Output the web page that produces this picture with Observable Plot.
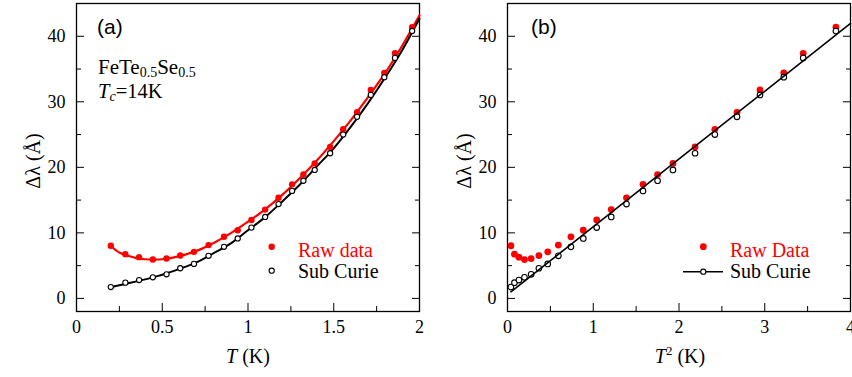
<!DOCTYPE html>
<html><head><meta charset="utf-8">
<script src="https://cdn.jsdelivr.net/npm/d3@7"></script>
<script src="https://cdn.jsdelivr.net/npm/@observablehq/plot@0.6"></script>
<style>
body{margin:0;background:#fff;}
#wrap{position:relative;width:852px;height:377px;overflow:hidden;background:#fff;}
.pl{position:absolute;top:0;}
#ov{position:absolute;left:0;top:0;}
#wrap svg text{font-family:"Liberation Serif","Tinos","Times New Roman","DejaVu Serif",serif;}
#wrap svg text.sans{font-family:"Liberation Sans","Arimo",Arial,sans-serif;}
</style></head>
<body><div id="wrap"></div>
<script>
// Temperatures (K) of the measured points
const T = [0.2,0.285,0.365,0.445,0.525,0.605,0.685,0.77,0.86,0.94,1.02,1.1,1.178,1.257,1.323,1.389,1.479,1.555,1.636,1.716,1.795,1.857,1.957];
// Δλ (Å) raw data
const rawData = [8.03,6.75,6.29,5.93,6.08,6.54,7.1,8.13,9.4,10.4,11.97,13.55,15.35,17.4,18.9,20.6,23.1,25.8,28.4,31.8,34.4,37.4,41.4];
// Δλ (Å) after Curie subtraction
const subCurie = [1.73,2.4,2.8,3.22,3.68,4.6,5.26,6.5,7.87,9.15,10.8,12.43,14.4,16.4,17.95,19.6,22.15,25.0,27.7,31.05,33.75,36.7,40.8];
// fit curves of panel (a)
const fitT = [0.2,0.25,0.3,0.35,0.4,0.45,0.5,0.6,0.7,0.8,0.9,1.0,1.1,1.2,1.3,1.4,1.5,1.6,1.7,1.8,1.9,2.0];
const fitRaw = [8.0,7.0,6.5,6.15,5.97,5.92,5.97,6.45,7.25,8.45,9.95,11.7,13.6,15.8,18.3,21.0,24.0,27.2,30.7,34.4,38.6,43.2];
const fitSub = [1.7,2.0,2.3,2.6,2.9,3.25,3.6,4.5,5.5,6.9,8.4,10.4,12.4,14.8,17.3,20.1,22.9,26.2,29.8,33.7,37.9,42.7];
// linear fit of panel (b)
const lineT2 = [0.04,4];
const lineB = [1.0,41.95];
// ticks
const xTicksA = [0,0.5,1,1.5,2], xMinorA = [0.25,0.75,1.25,1.75];
const xTicksB = [0,1,2,3,4], xMinorB = [0.5,1.5,2.5,3.5];
const yTicks = [0,10,20,30,40], yMinor = [5,15,25,35];

const RED = "#ff0000";
const SERIF = "Liberation Serif";
const pts = T.map((t,i)=>({t, t2:t*t, raw:rawData[i], sub:subCurie[i]}));
const fits = fitT.map((t,i)=>({t, raw:fitRaw[i], sub:fitSub[i]}));
const lin = lineT2.map((x,i)=>({x, y:lineB[i]}));
const blank = () => "";

function frameMarks(xt, xm){
  return [
    Plot.frame({stroke:"black", strokeWidth:1.3}),
    Plot.axisX({anchor:"bottom", ticks:xt, tickSize:-8, tickFormat:blank, label:null}),
    Plot.axisX({anchor:"bottom", ticks:xm, tickSize:-5, tickFormat:blank, label:null}),
    Plot.axisX({anchor:"bottom", ticks:xt, tickSize:0, tickPadding:9, tickFormat:d=>String(d), fontSize:18, fontFamily:SERIF, label:null}),
    Plot.axisY({anchor:"left", ticks:yTicks, tickSize:-8, tickFormat:blank, label:null}),
    Plot.axisY({anchor:"left", ticks:yMinor, tickSize:-5, tickFormat:blank, label:null}),
    Plot.axisY({anchor:"right", ticks:yTicks, tickSize:-8, tickFormat:blank, label:null}),
    Plot.axisY({anchor:"right", ticks:yMinor, tickSize:-5, tickFormat:blank, label:null}),
    Plot.axisY({anchor:"left", ticks:yTicks, tickSize:0, tickPadding:11, tickFormat:d=>String(d), fontSize:18, fontFamily:SERIF, label:null})
  ];
}

const common = {height:377, marginTop:3, marginBottom:66, y:{domain:[-2,45]},
  style:{fontFamily:SERIF, fontSize:"18px", background:"transparent", color:"black", overflow:"visible"}};

const chartA = Plot.plot({...common, width:430, marginLeft:76, marginRight:11,
  x:{domain:[0,2]},
  marks:[
    ...frameMarks(xTicksA, xMinorA),
    Plot.line(fits, {x:"t", y:"raw", stroke:RED, strokeWidth:2.2, curve:"catmull-rom"}),
    Plot.line(fits, {x:"t", y:"sub", stroke:"black", strokeWidth:2, curve:"catmull-rom"}),
    Plot.dot(pts, {x:"t", y:"raw", r:3.2, fill:RED, stroke:"none"}),
    Plot.dot(pts, {x:"t", y:"sub", r:2.6, fill:"white", stroke:"black", strokeWidth:1.1})
  ]});
chartA.classList.add("pl"); chartA.style.left = "0px";

const chartB = Plot.plot({...common, width:422, marginLeft:77, marginRight:2,
  x:{domain:[0,4]},
  marks:[
    ...frameMarks(xTicksB, xMinorB),
    Plot.dot(pts, {x:"t2", y:"raw", r:3.4, fill:RED, stroke:"none"}),
    Plot.dot(pts, {x:"t2", y:"sub", r:2.8, fill:"white", stroke:"black", strokeWidth:1.1}),
    Plot.line(lin, {x:"x", y:"y", stroke:"black", strokeWidth:1.6})
  ]});
chartB.classList.add("pl"); chartB.style.left = "430px";

const wrap = document.getElementById("wrap");
wrap.appendChild(chartA);
wrap.appendChild(chartB);

// overlay: panel letters, annotations, legends, axis titles
const NS = "http://www.w3.org/2000/svg";
const ov = document.createElementNS(NS, "svg");
ov.setAttribute("id","ov"); ov.setAttribute("width",852); ov.setAttribute("height",377);
wrap.appendChild(ov);
function txt(x, y, parts, opts={}){
  const t = document.createElementNS(NS,"text");
  t.setAttribute("x",x); t.setAttribute("y",y);
  if(opts.cls) t.setAttribute("class", opts.cls);
  t.setAttribute("font-size", opts.size || 20);
  t.setAttribute("fill", opts.fill || "black");
  if(opts.anchor) t.setAttribute("text-anchor", opts.anchor);
  if(opts.transform) t.setAttribute("transform", opts.transform);
  for(const p of parts){
    const s = document.createElementNS(NS,"tspan");
    if(typeof p === "string"){ s.textContent = p; }
    else {
      s.textContent = p.t;
      if(p.i) s.setAttribute("font-style","italic");
      if(p.sub) s.setAttribute("font-size", p.sub);
      if(p.dy) s.setAttribute("dy", p.dy);
    }
    t.appendChild(s);
  }
  ov.appendChild(t);
}
function el(name, attrs){ const e=document.createElementNS(NS,name); for(const k in attrs) e.setAttribute(k,attrs[k]); ov.appendChild(e); }

txt(97, 34, ["(a)"], {cls:"sans", size:21});
txt(531, 34, ["(b)"], {cls:"sans", size:21});
txt(98, 74, ["FeTe", {t:"0.5", sub:14, dy:2.5}, {t:"Se", dy:-2.5}, {t:"0.5", sub:14, dy:2.5}], {size:21});
txt(98, 98, [{t:"T", i:true}, {t:"c", i:true, sub:14, dy:2.5}, {t:"=14K", dy:-2.5}], {size:20.5});

// legend (a)
el("circle",{cx:271.7, cy:246.7, r:3.2, fill:RED});
txt(298, 256.7, ["Raw data"], {fill:RED});
el("circle",{cx:271.7, cy:270.7, r:2.6, fill:"white", stroke:"black", "stroke-width":1.1});
txt(298, 277.5, ["Sub Curie"]);
// legend (b)
el("circle",{cx:703.3, cy:246.7, r:3.4, fill:RED});
txt(730, 256.7, ["Raw Data"], {fill:RED});
el("line",{x1:683, x2:723, y1:271.7, y2:271.7, stroke:"black", "stroke-width":1.6});
el("circle",{cx:703.3, cy:271.7, r:2.6, fill:"white", stroke:"black", "stroke-width":1.1});
txt(730, 277.5, ["Sub Curie"]);

// axis titles
txt(248, 363, [{t:"T", i:true}, " (K)"], {anchor:"middle", size:20});
txt(680, 363, [{t:"T", i:true}, {t:"2", sub:13, dy:-8}, {t:" (K)", dy:8}], {anchor:"middle", size:20});
txt(0, 0, ["Δλ (Å)"], {anchor:"middle", size:20, transform:"translate(40,161) rotate(-90)"});
txt(0, 0, ["Δλ (Å)"], {anchor:"middle", size:20, transform:"translate(471,161) rotate(-90)"});
</script>
</body></html>
